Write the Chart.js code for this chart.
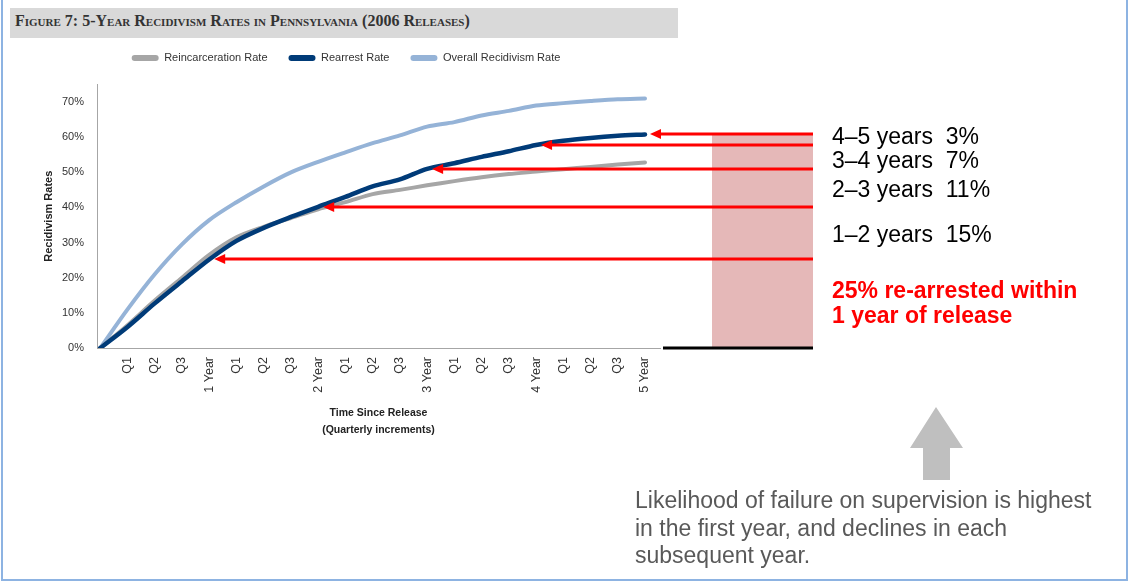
<!DOCTYPE html>
<html lang="en">
<head>
<meta charset="UTF-8">
<title>5-Year Recidivism Rates in Pennsylvania</title>
<script src="https://cdn.jsdelivr.net/npm/chart.js"></script>
<style>
  html, body { margin: 0; padding: 0; background: #fff; }
  body { width: 1130px; height: 583px; position: relative; overflow: hidden; font-family: 'Liberation Sans', Arial, sans-serif; }
  #frame { position: absolute; left: 1px; top: -4px; width: 1123px; height: 581px; border: 2px solid #8db3e2; }
  #banner { position: absolute; left: 10px; top: 8px; width: 668px; height: 30px; background: #d9d9d9; }
  #title { position: absolute; left: 15px; top: 12px; font-family: 'Liberation Serif', serif; font-weight: bold;
           font-variant: small-caps; font-size: 16px; color: #333; white-space: pre; }
  canvas { position: absolute; left: 0; top: 0; }
  .note { position: absolute; left: 832px; font-size: 23px; line-height: 23px; color: #000; white-space: pre; }
  .red { color: #ff0000; font-weight: bold; }
  #foot { position: absolute; left: 635px; top: 487px; font-size: 23px; line-height: 27.5px; color: #595959; }
</style>
</head>
<body>
<div id="frame"></div>
<div id="banner"></div>
<div id="title">Figure 7: 5-Year Recidivism Rates in Pennsylvania (2006 Releases)</div>
<canvas id="chart" width="1130" height="583"></canvas>
<div class="note" style="top:125px">4–5 years  3%</div>
<div class="note" style="top:149px">3–4 years  7%</div>
<div class="note" style="top:178px">2–3 years  11%</div>
<div class="note" style="top:223px">1–2 years  15%</div>
<div class="note red" style="top:279px">25% re-arrested within</div>
<div class="note red" style="top:304px">1 year of release</div>
<div id="foot">Likelihood of failure on supervision is highest<br>in the first year, and declines in each<br>subsequent year.</div>

<script>
// quarterly points since release (index 0 = release)
var quarterLabels = ['', 'Q1', 'Q2', 'Q3', '1 Year', 'Q1', 'Q2', 'Q3', '2 Year', 'Q1', 'Q2', 'Q3', '3 Year',
                     'Q1', 'Q2', 'Q3', '4 Year', 'Q1', 'Q2', 'Q3', '5 Year'];
var reincarceration = [0, 6.5, 13.5, 20, 26.5, 31.5, 34.5, 37, 39.5, 41.5, 43.8, 45, 46.3,
                       47.5, 48.6, 49.5, 50.2, 50.9, 51.5, 52.2, 52.8];
var rearrest = [0, 6, 12.7, 19, 25.2, 30.5, 34.2, 37.3, 40.2, 43, 46, 48, 51,
                52.6, 54.4, 56, 57.8, 59, 59.8, 60.4, 60.8];
var overall = [0, 11, 21, 29.5, 36.4, 41.5, 46, 50, 53, 55.7, 58.3, 60.5, 63,
               64.3, 66.2, 67.5, 69, 69.7, 70.3, 70.8, 71];
var yTicks = [0, 10, 20, 30, 40, 50, 60, 70];
var yearQuarters = [4, 8, 12, 16, 20];

var seriesNames = ['Reincarceration Rate', 'Rearrest Rate', 'Overall Recidivism Rate'];
var seriesColors = ['#a6a6a6', '#003b78', '#95b3d7'];

function pts(arr) {
    return arr.map(function (v, i) { return {x: i, y: v}; });
}

// extra space under the legend
var legendGap = {
    id: 'legendGap',
    beforeInit: function (chart) {
        var fit = chart.legend.fit;
        chart.legend.fit = function () {
            fit.bind(chart.legend)();
            this.height += 11;
        };
    }
};

// the red arrows, pink band and grey arrow drawn beside the chart
var annotations = {
    id: 'annotations',
    afterDatasetsDraw: function (chart) {
        var ctx = chart.ctx;
        var x = chart.scales.x, y = chart.scales.y;
        var right = 813;
        var base = y.getPixelForValue(0);
        var tips = yearQuarters.map(function (q) {
            return {x: x.getPixelForValue(q) + 5, y: Math.round(y.getPixelForValue(rearrest[q]))};
        });
        var top = Math.min.apply(null, tips.map(function (t) { return t.y; }));

        ctx.save();
        ctx.fillStyle = '#e5b8b8';
        ctx.fillRect(712, top, right - 712, base - top);

        ctx.strokeStyle = '#000';
        ctx.lineWidth = 3;
        ctx.beginPath();
        ctx.moveTo(663, base);
        ctx.lineTo(right, base);
        ctx.stroke();

        ctx.strokeStyle = '#ff0000';
        ctx.fillStyle = '#ff0000';
        tips.forEach(function (t) {
            ctx.lineWidth = 3;
            ctx.beginPath();
            ctx.moveTo(right, t.y);
            ctx.lineTo(t.x + 8, t.y);
            ctx.stroke();
            ctx.beginPath();
            ctx.moveTo(t.x, t.y);
            ctx.lineTo(t.x + 11, t.y - 5);
            ctx.lineTo(t.x + 11, t.y + 5);
            ctx.closePath();
            ctx.fill();
        });

        // grey up arrow
        ctx.fillStyle = '#bfbfbf';
        ctx.beginPath();
        ctx.moveTo(936, 407);
        ctx.lineTo(963, 448);
        ctx.lineTo(950, 448);
        ctx.lineTo(950, 480);
        ctx.lineTo(923, 480);
        ctx.lineTo(923, 448);
        ctx.lineTo(910, 448);
        ctx.closePath();
        ctx.fill();
        ctx.restore();
    }
};

var datasets = [reincarceration, rearrest, overall].map(function (arr, i) {
    return {
        label: seriesNames[i],
        data: pts(arr),
        borderColor: seriesColors[i],
        backgroundColor: seriesColors[i],
        borderWidth: i === 1 ? 4.5 : 4,
        pointRadius: 0,
        tension: 0.3,
        borderCapStyle: 'round',
        borderJoinStyle: 'round',
        order: [2, 1, 3][i]
    };
});

var ctx = document.getElementById('chart').getContext('2d');
var chart = new Chart(ctx, {
    type: 'line',
    data: { datasets: datasets },
    plugins: [legendGap, annotations],
    options: {
        responsive: false,
        animation: false,
        layout: { padding: { left: 32, right: 470, top: 31.5, bottom: 140 } },
        plugins: {
            tooltip: { enabled: false },
            legend: {
                position: 'top',
                labels: {
                    font: { family: 'Liberation Sans', size: 11 },
                    color: '#333',
                    boxWidth: 27,
                    boxHeight: 6,
                    useBorderRadius: true,
                    borderRadius: 3,
                    padding: 21,
                    sort: function (a, b) { return a.datasetIndex - b.datasetIndex; },
                    generateLabels: function (chart) {
                        var items = Chart.defaults.plugins.legend.labels.generateLabels(chart);
                        items.forEach(function (it) { it.lineWidth = 0; });
                        return items;
                    }
                }
            }
        },
        scales: {
            x: {
                type: 'linear',
                min: -0.12,
                max: 20.55,
                afterBuildTicks: function (s) {
                    s.ticks = quarterLabels.map(function (l, i) { return {value: i}; }).slice(1);
                },
                afterFit: function (s) { s.height = 95; },
                grid: { display: false, drawTicks: false },
                border: { display: true, color: '#a6a6a6', width: 1 },
                ticks: {
                    autoSkip: false,
                    maxRotation: 90,
                    minRotation: 90,
                    padding: 9,
                    color: '#333',
                    font: { family: 'Liberation Sans', size: 12.5 },
                    callback: function (v) { return quarterLabels[v]; }
                },
                title: {
                    display: true,
                    text: ['Time Since Release', '(Quarterly increments)'],
                    color: '#222',
                    font: { family: 'Liberation Sans', size: 10.5, weight: 'bold', lineHeight: 1.65 },
                    padding: { top: 4, bottom: 4 }
                }
            },
            y: {
                min: 0,
                max: 75,
                afterBuildTicks: function (s) {
                    s.ticks = yTicks.map(function (v) { return {value: v}; });
                },
                afterFit: function (s) { s.width = 65; },
                grid: { display: false, drawTicks: false },
                border: { display: true, color: '#a6a6a6', width: 1 },
                ticks: {
                    padding: 13,
                    color: '#333',
                    font: { family: 'Liberation Sans', size: 11 },
                    callback: function (v) { return v + '%'; }
                },
                title: {
                    display: true,
                    text: 'Recidivism Rates',
                    color: '#222',
                    font: { family: 'Liberation Sans', size: 11, weight: 'bold' },
                    padding: { top: 10, bottom: 4 }
                }
            }
        }
    }
});
</script>
</body>
</html>
